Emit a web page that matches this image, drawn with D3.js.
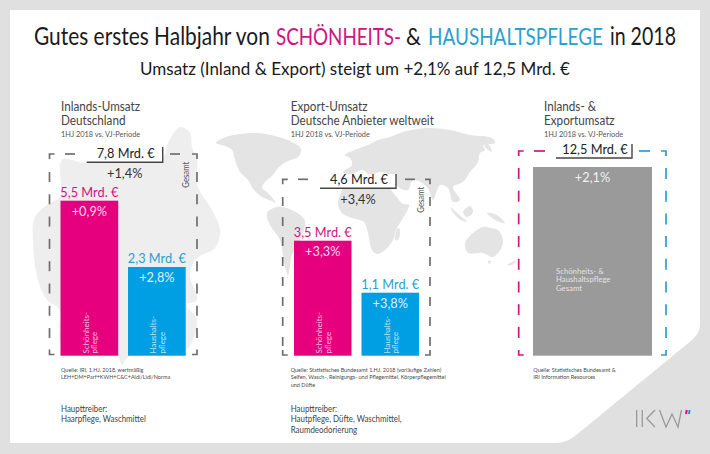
<!DOCTYPE html>
<html>
<head>
<meta charset="utf-8">
<script src="https://cdn.jsdelivr.net/npm/d3@7"></script>
<style>
html, body { margin: 0; padding: 0; background: #e0e0e0; }
svg { display: block; }
text { font-family: Lato, "Open Sans", sans-serif; }
</style>
</head>
<body>
<svg id="chart" width="710" height="454"></svg>
<script>
// values
const titleParts = ["Gutes erstes Halbjahr von", "SCHÖNHEITS-", "&", "HAUSHALTSPFLEGE", "in 2018"];
const subtitle = "Umsatz (Inland & Export) steigt um +2,1% auf 12,5 Mrd. €";

const barNames = [["Schönheits-", "pflege"], ["Haushalts-", "pflege"]];
const inlandValues = [5.5, 2.3];
const inlandChanges = ["+0,9%", "+2,8%"];
const exportValues = [3.5, 1.1];
const exportChanges = ["+3,3%", "+3,8%"];
const totalValue = [12.5];
const totalChange = ["+2,1%"];
const totalName = ["Schönheits- &", "Haushaltspflege", "Gesamt"];

const frameValues = [7.8, 4.6, 12.5];
const frameChanges = ["+1,4%", "+3,4%", null];

const headings = [["Inlands-Umsatz", "Deutschland"], ["Export-Umsatz", "Deutsche Anbieter weltweit"], ["Inlands- &", "Exportumsatz"]];
const period = "1HJ 2018 vs. VJ-Periode";
const sources = [
  ["Quelle: IRI, 1.HJ. 2018, wertmäßig", "LEH+DM+Parf+KWH+C&C+Aldi/Lidl/Norma"],
  ["Quelle: Statistisches Bundesamt 1.HJ. 2018 (vorläufige Zahlen)", "Seifen, Wasch-, Reinigungs- und Pflegemittel, Körperpflegemittel", "und Düfte"],
  ["Quelle: Statistisches Bundesamt &", "IRI Information Resources"]
];
const drivers = [
  ["Haupttreiber:", "Haarpflege, Waschmittel"],
  ["Haupttreiber:", "Hautpflege, Düfte, Waschmittel,", "Raumdeodorierung"],
  []
];

const pink = "#e6007e", pinkText = "#cf1480";
const blue = "#009fe3", blueText = "#2a9fd0";
const grey = "#9a9a9a", dash = "#6e6e6e";

// the original bars are not drawn to one linear scale, so the scale is piecewise
const y = d3.scaleLinear()
  .domain([0, 1.1, 2.3, 3.5, 5.5, 12.5])
  .range([355.7, 292.7, 267, 240.7, 200.7, 167]);

const fmt = v => d3.format(".1f")(v).replace(".", ",") + " Mrd. €";

const svg = d3.select("#chart");

svg.append("path")
  .attr("d", "M10 10H700V325Q700 333 692 340L575 436Q566 443 556 443H10Z")
  .attr("fill", "#fff");

// background outlines (decoration only)
const germany = [[62,160],[85,163],[120,158],[163,157],[168,143],[180,127],[190,133],[192,147],[197,160],[198,187],[212,210],[220,230],[215,248],[197,258],[190,275],[197,300],[187,305],[197,320],[186,350],[128,357],[122,365],[118,356],[110,350],[62,345],[60,310],[47,300],[38,280],[33,243],[35,217],[50,203],[60,197]];
const world = [
  [[216,143],[226,137],[240,134],[258,133],[275,136],[292,142],[301,149],[298,157],[288,161],[279,167],[272,176],[265,182],[262,188],[268,193],[276,203],[272,201],[262,197],[254,190],[248,180],[240,172],[235,160],[232,150],[225,146]],
  [[267,213],[277,207],[292,210],[305,221],[300,240],[292,255],[288,275],[284,262],[280,240],[270,225]],
  [[343,172],[352,165],[350,158],[345,155],[355,150],[368,145],[378,140],[390,137],[403,132],[427,128],[450,130],[470,135],[492,138],[495,143],[483,145],[485,150],[480,153],[478,162],[470,172],[463,182],[453,187],[460,200],[453,202],[448,188],[440,185],[433,200],[427,187],[413,180],[408,190],[398,187],[390,175],[380,172],[370,175],[362,170],[350,175]],
  [[345,186],[362,181],[385,183],[395,195],[403,204],[409,205],[403,218],[397,228],[393,240],[385,250],[377,254],[372,250],[368,233],[364,222],[352,218],[343,214],[338,205],[340,195]],
  [[395,240],[398,228],[400,230],[398,240]],
  [[465,243],[473,233],[483,227],[490,228],[498,230],[503,243],[493,257],[483,253],[468,253]],
  [[487,213],[495,214],[505,223],[497,221]],
  [[463,212],[470,206],[473,212],[467,217]],
  [[450,207],[456,212],[467,222],[458,218]],
  [[483,143],[489,145],[492,152],[487,149]],
  [[507,265],[517,260],[512,265]],
  [[488,261],[491,261],[489,264]]
];
const outline = d3.line().curve(d3.curveCatmullRomClosed.alpha(0.5));
svg.append("path").attr("d", outline(germany)).attr("fill", "#eeeeee");
svg.selectAll("path.land").data(world).join("path")
  .attr("class", "land")
  .attr("d", d => outline(d))
  .attr("fill", "#e4e4e4");

function addLines(lines, x, baseline, step, size, color, cls) {
  lines.forEach((t, i) => {
    svg.append("text").attr("class", cls || "narrow").attr("x", x).attr("y", baseline + i * step)
      .attr("font-size", size).attr("fill", color).text(t);
  });
}

// squeeze a text sideways by a factor, around its own anchor
function squeeze(node, k) {
  const t = d3.select(node);
  const before = t.attr("transform") || "";
  t.attr("transform", `${before} translate(${t.attr("x") || 0},${t.attr("y") || 0}) scale(${k},1)`)
    .attr("x", 0).attr("y", 0);
}

// title, each coloured piece placed on its own
const titleX = [[34, 236], [276, 125], [406, 15], [428, 175], [610, 66]];
const titleSize = [25, 22.6, 24, 22.6, 25];
svg.selectAll("text.title").data(titleParts).join("text")
  .attr("class", "title")
  .attr("x", (d, i) => titleX[i][0]).attr("y", 45)
  .attr("font-size", (d, i) => titleSize[i])
  .attr("fill", (d, i) => i == 1 ? pinkText : i == 3 ? blueText : "#1a1a1a")
  .text(d => d)
  .each(function (d, i) { squeeze(this, titleX[i][1] / this.getComputedTextLength()); });

svg.append("text").attr("x", 355).attr("y", 75).attr("text-anchor", "middle")
  .attr("font-size", 17.5).attr("fill", "#1a1a1a").text(subtitle)
  .each(function () { squeeze(this, 430 / this.getComputedTextLength()); });

// one column: heading, frame, bars, notes
const columns = [
  { textX: 61, bars: [60.5, 128], barW: 57.7, values: inlandValues, changes: inlandChanges,
    frame: { l: 49.5, r: 197, t: 154, b: 354.5, first: 172, step: 22.3, len: 10, top: [[65, 75], [170, 180]] },
    box: { l: 86.7, r: 162.7, t: 147, b: 162.3 }, gesamt: [188.5, 187.7], changeY: 178 },
  { textX: 290.7, bars: [294, 361.5], barW: 57.5, values: exportValues, changes: exportChanges,
    frame: { l: 282.7, r: 430, t: 179.3, b: 355, first: 197, step: 20, len: 9, top: [[298, 308], [405, 415]] },
    box: { l: 320, r: 396, t: 174, b: 188.3 }, gesamt: [424, 212.7], changeY: 204 },
  { textX: 544, bars: [533], barW: 119, values: totalValue, changes: totalChange,
    frame: { l: 518.7, r: 666, t: 151, b: 355, first: 168, step: 22.7, len: 11, top: [[534, 545], [639, 650]], colors: [pinkText, blueText] },
    box: { l: 556, r: 632, t: 144, b: 158 }, gesamt: null, changeY: null }
];

columns.forEach((c, k) => {
  addLines(headings[k], c.textX, 110.7, 14.3, 13, "#444");
  addLines([period], c.textX, 136.7, 0, 8.2, "#555");

  // dashed frame
  const f = c.frame;
  const cL = f.colors ? f.colors[0] : dash, cR = f.colors ? f.colors[1] : dash;
  const g = svg.append("g").attr("fill", "none").attr("stroke-width", 1.7);
  [[f.l, cL], [f.r, cR]].forEach(s => {
    const ys = d3.range(f.first, f.b - 10, f.step);
    g.selectAll(null).data(ys).join("line")
      .attr("x1", s[0]).attr("x2", s[0])
      .attr("y1", d => d).attr("y2", d => d + f.len)
      .attr("stroke", s[1]);
  });
  g.append("path").attr("stroke", cL).attr("d", `M${f.l} ${f.t + 5}V${f.t}H${f.l + 5}M${f.l} ${f.b - 5}V${f.b}H${f.l + 5}`);
  g.append("path").attr("stroke", cR).attr("d", `M${f.r} ${f.t + 5}V${f.t}H${f.r - 5}M${f.r} ${f.b - 5}V${f.b}H${f.r - 5}`);
  g.append("line").attr("x1", f.top[0][0]).attr("x2", f.top[0][1]).attr("y1", f.t).attr("y2", f.t).attr("stroke", cL);
  g.append("line").attr("x1", f.top[1][0]).attr("x2", f.top[1][1]).attr("y1", f.t).attr("y2", f.t).attr("stroke", cR);

  // total label box
  const b = c.box;
  svg.append("rect").attr("x", b.l).attr("y", b.t).attr("width", b.r - b.l).attr("height", b.b - b.t).attr("fill", "#fff");
  svg.append("path").attr("fill", "none").attr("stroke", "#444").attr("stroke-width", 1.4)
    .attr("d", `M${b.l} ${b.b}H${b.r}V${b.t}`);
  svg.append("text").attr("class", "narrow").attr("x", (b.l + b.r) / 2 + 1).attr("y", b.b - 4.3).attr("text-anchor", "middle")
    .attr("font-size", 14.2).attr("fill", "#222").text(fmt(frameValues[k]));

  if (frameChanges[k]) {
    svg.append("text").attr("class", "narrow").attr("x", (b.l + b.r) / 2).attr("y", c.changeY).attr("text-anchor", "middle")
      .attr("font-size", 14.2).attr("fill", "#333").text(frameChanges[k]);
  }
  if (c.gesamt) {
    svg.append("text").attr("class", "narrow").attr("transform", `translate(${c.gesamt[0]},${c.gesamt[1]}) rotate(-90)`)
      .attr("font-size", 8.6).attr("fill", "#555").text("Gesamt");
  }

  // bars
  c.values.forEach((v, i) => {
    const x0 = c.bars[i], cx = x0 + c.barW / 2, single = c.values.length == 1;
    const fill = single ? grey : i == 0 ? pink : blue;
    svg.append("rect").attr("x", x0).attr("y", y(v)).attr("width", c.barW)
      .attr("height", y(0) - y(v)).attr("fill", fill);
    if (!single) {
      svg.append("text").attr("class", "narrow").attr("x", cx).attr("y", y(v) - 4.2).attr("text-anchor", "middle")
        .attr("font-size", 14.2).attr("fill", i == 0 ? pinkText : blueText).text(fmt(v));
    }
    svg.append("text").attr("class", "narrow").attr("x", cx).attr("y", y(v) + 15).attr("text-anchor", "middle")
      .attr("font-size", 14.2).attr("fill", "#fff").attr("fill-opacity", 0.88).text(c.changes[i]);
    if (!single) {
      barNames[i].forEach((t, j) => {
        svg.append("text").attr("transform", `translate(${x0 + 28 + j * 8.6},353.5) rotate(-90)`)
          .attr("font-size", 8).attr("fill", "#fff").attr("fill-opacity", 0.72).text(t);
      });
    } else {
      addLines(totalName, 556, 273.5, 8.6, 7, "rgba(255,255,255,0.75)", "wide");
    }
  });

  const srcX = k == 2 ? 533.3 : c.textX;
  addLines(sources[k], srcX, 371.7, 7.7, 6.1, "#4a4a4a");
  addLines(drivers[k], c.textX, 411.7, 10.5, 8.8, "#444");
});

// Lato runs wider than the original face, so squeeze the small texts a little
svg.selectAll("text.narrow").each(function () { squeeze(this, 0.9); });
svg.selectAll("text.wide").each(function () { squeeze(this, 1.11); });

// logo
const logo = d3.line();
const logoX = d3.scaleLinear().domain([0, 100]).range([600, 700]);
const logoY = d3.scaleLinear().domain([0, 50]).range([390, 440]);
const logoStrokes = [
  [[36.7, 20], [36.7, 37]],
  [[42.3, 20], [42.3, 37]],
  [[55, 20], [46.7, 28.5], [55, 37]],
  [[59.5, 20], [66, 37], [72, 24], [78, 37], [81.5, 20]]
];
svg.selectAll("path.logo").data(logoStrokes).join("path")
  .attr("class", "logo")
  .attr("d", d => logo(d.map(p => [logoX(p[0]), logoY(p[1])])))
  .attr("fill", "none").attr("stroke", "#999").attr("stroke-width", 1.3);
[[86, pink], [88.9, blue]].forEach(q => {
  svg.append("line").attr("x1", logoX(q[0]) + 0.8).attr("x2", logoX(q[0]))
    .attr("y1", logoY(20)).attr("y2", logoY(24))
    .attr("stroke", q[1]).attr("stroke-width", 2);
});
</script>
</body>
</html>
